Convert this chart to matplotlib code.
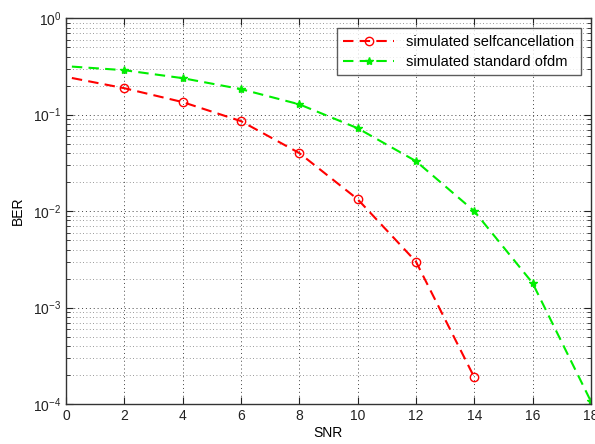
import matplotlib
matplotlib.use("Agg")
import matplotlib.pyplot as plt
from matplotlib.ticker import LogLocator, NullFormatter

plt.rcParams['font.family'] = ['Liberation Sans', 'DejaVu Sans']
plt.rcParams['mathtext.fontset'] = 'custom'
plt.rcParams['mathtext.rm'] = 'Liberation Sans'

snr_red = [0.2, 2, 4, 6, 8, 10, 12, 14]
ber_red = [0.24, 0.188, 0.135, 0.0857, 0.040, 0.0133, 0.0030, 0.00019]
snr_green = [0.2, 2, 4, 6, 8, 10, 12, 14, 16, 18]
ber_green = [0.315, 0.289, 0.239, 0.184, 0.128, 0.0724, 0.033, 0.010, 0.0018, 0.000107]
xticks = [0, 2, 4, 6, 8, 10, 12, 14, 16, 18]

fig = plt.figure(figsize=(5.95, 4.44), dpi=100)
ax = fig.add_axes([0.111, 0.090, 0.882, 0.869])

ax.semilogy(snr_red, ber_red, '--', color='#ff0000', lw=1.5, marker='o',
            markersize=6, markerfacecolor='none', markeredgecolor='#ff0000',
            markevery=list(range(1, len(snr_red))), label='simulated selfcancellation',
            dashes=(5, 3))
ax.semilogy(snr_green, ber_green, '--', color='#00ee00', lw=1.5, marker='*',
            markersize=6, markevery=list(range(1, len(snr_green))),
            label='simulated standard ofdm', dashes=(5, 3))

ax.set_xlim(0, 18)
ax.set_ylim(1e-4, 1)
ax.set_xticks(xticks)
ax.set_xticklabels([str(t) for t in xticks])
ax.yaxis.set_major_locator(LogLocator(base=10, numticks=10))
ax.yaxis.set_minor_locator(LogLocator(base=10, subs=range(2, 10), numticks=20))
ax.yaxis.set_minor_formatter(NullFormatter())

ax.grid(True, which='major', axis='both', linestyle=(0, (1, 3)), color='#444444', lw=0.7)
ax.grid(True, which='minor', axis='y', linestyle=(0, (1, 3)), color='#777777', lw=0.6)

ax.tick_params(which='both', direction='in', top=True, right=True, labelsize=10, colors='#222222')
ax.tick_params(which='major', length=5)
ax.tick_params(which='minor', length=3)
for s in ax.spines.values():
    s.set_color('#333333')
    s.set_linewidth(1.0)

ax.set_xlabel('SNR', fontsize=10, labelpad=2)
ax.set_ylabel('BER', fontsize=10, labelpad=6)

leg = ax.legend(loc='upper right', fontsize=10.5, frameon=True, fancybox=False,
                edgecolor='#333333', borderpad=0.45, handlelength=3.5, labelspacing=0.4,
                borderaxespad=0.7)
leg.get_frame().set_linewidth(1.0)

fig.savefig('out.png', dpi=100)
